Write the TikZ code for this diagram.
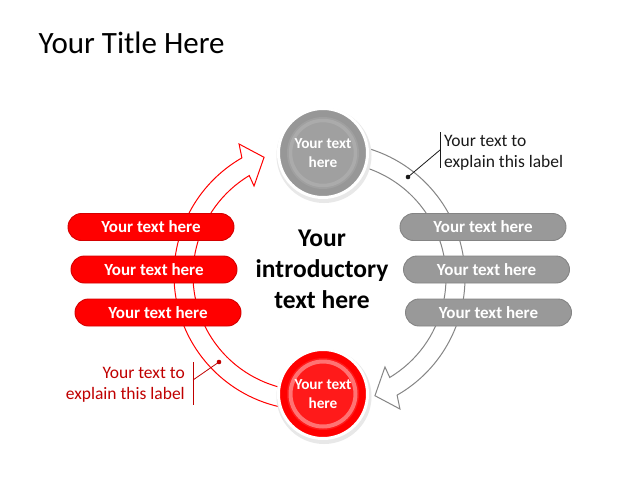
\documentclass[tikz,border=0pt]{standalone}
\usepackage{fontspec}
\setmainfont{Carlito}
\definecolor{pillred}{HTML}{FF0000}
\definecolor{pillredline}{HTML}{D40000}
\definecolor{pillgray}{HTML}{999999}
\definecolor{pillgrayline}{HTML}{848484}
\definecolor{darkred}{HTML}{C00000}
\definecolor{arrowgray}{HTML}{858585}
\definecolor{ringgray}{HTML}{ABABAB}
\definecolor{diskgray}{HTML}{979797}
\definecolor{innergray}{HTML}{A0A0A0}
\definecolor{ringred}{HTML}{FF7373}
\definecolor{innerred}{HTML}{FF1A1A}
\definecolor{textblack}{HTML}{1A1A1A}
\tikzset{
  pill/.style={rounded corners=13.5, minimum width=166, minimum height=27, inner sep=0,
    line width=0.9, text=white, font=\fontsize{17}{20}\selectfont\bfseries},
  redpill/.style={pill, fill=pillred, draw=pillredline},
  graypill/.style={pill, fill=pillgray, draw=pillgrayline},
  bigdisk/.style={circle, minimum size=89, inner sep=0, draw=white, line width=3,
    align=center, text=white, font=\fontsize{15.3}{18.4}\selectfont\bfseries},
  arrowband/.style={fill=white, line width=1.0, line join=miter},
  calltext/.style={inner sep=0, font=\fontsize{17.5}{20.5}\selectfont},
  dotnode/.style={circle, inner sep=0, minimum size=4.6},
}
\begin{document}
\begin{tikzpicture}[x=1pt,y=-1pt]
\useasboundingbox (0,0) rectangle (640,480);
\fill[white] (0,0) rectangle (640,480);

% title
\node[anchor=base west, inner sep=0, font=\fontsize{31}{36}\selectfont, text=black] (title) at (38.5,53) {Your Title Here};

% gray circular arrow
\draw[arrowband, draw=arrowgray]
  ([shift={(330,278)}]-95:135) arc[start angle=-95,end angle=60.2,radius=135]
  -- ([shift={(330,278)}]61.9:148.5)
  -- ([shift={(330,278)}]69.1:126)
  -- ([shift={(330,278)}]58.3:104.6)
  -- ([shift={(330,278)}]59:116) arc[start angle=59,end angle=-95,radius=116]
  -- cycle;

% red circular arrow (same shape turned half round)
\begin{scope}[rotate around={180:(319.5,276.5)}]
\draw[arrowband, draw=pillred]
  ([shift={(330,278)}]-95:135) arc[start angle=-95,end angle=60.2,radius=135]
  -- ([shift={(330,278)}]61.9:148.5)
  -- ([shift={(330,278)}]69.1:126)
  -- ([shift={(330,278)}]58.3:104.6)
  -- ([shift={(330,278)}]59:116) arc[start angle=59,end angle=-95,radius=116]
  -- cycle;
\end{scope}

% pills
\node[redpill] (l1) at (151,227) {Your text here};
\node[redpill] (l2) at (154,269.5) {Your text here};
\node[redpill] (l3) at (158,312.5) {Your text here};
\node[graypill] (r1) at (483,227) {Your text here};
\node[graypill] (r2) at (486.5,269.5) {Your text here};
\node[graypill] (r3) at (488.5,312.5) {Your text here};

% top gray circle
\fill[black!9] (324,155.5) circle (47.5);
\node[bigdisk, fill=diskgray] (topc) at (323,153) {};
\fill[innergray] (topc.center) circle (36);
\draw[ringgray, line width=3.5] (topc.center) circle (32.5);
\node[bigdisk, draw=none, fill=none] (topt) at (323,153) {Your text\\here};

% bottom red circle
\fill[black!9] (324,396.5) circle (47.5);
\node[bigdisk, fill=pillred] (botc) at (323,394) {};
\fill[innerred] (botc.center) circle (36);
\draw[ringred, line width=4] (botc.center) circle (32.5);
\node[bigdisk, draw=none, fill=none] (bott) at (323,394) {Your text\\here};

% intro text
\node[inner sep=0, align=center, text=black, font=\fontsize{25.5}{31.3}\selectfont\bfseries] (intro) at (322,269.5) {Your\\introductory\\text here};

% right callout
\coordinate (rbt) at (440,132);
\coordinate (rbb) at (440,168);
\coordinate (rbm) at (440,150);
\node[dotnode, fill=textblack] (rdot) at (408,177) {};
\draw[textblack, line width=0.8] (rbt) -- (rbb);
\draw[textblack, line width=0.8] (rbm) -- (rdot.center);
\node[calltext, anchor=west, align=left, text=textblack] (rtext) at (444,152.8) {Your text to\\explain this label};

% left callout
\coordinate (lbt) at (193,362);
\coordinate (lbb) at (193,405);
\coordinate (lbm) at (193,380);
\node[dotnode, fill=darkred] (ldot) at (219,362) {};
\draw[darkred, line width=0.8] (lbt) -- (lbb);
\draw[darkred, line width=0.8] (lbm) -- (ldot.center);
\node[calltext, anchor=east, align=right, text=darkred] (ltext) at (185,384.7) {Your text to\\explain this label};
\end{tikzpicture}
\end{document}
